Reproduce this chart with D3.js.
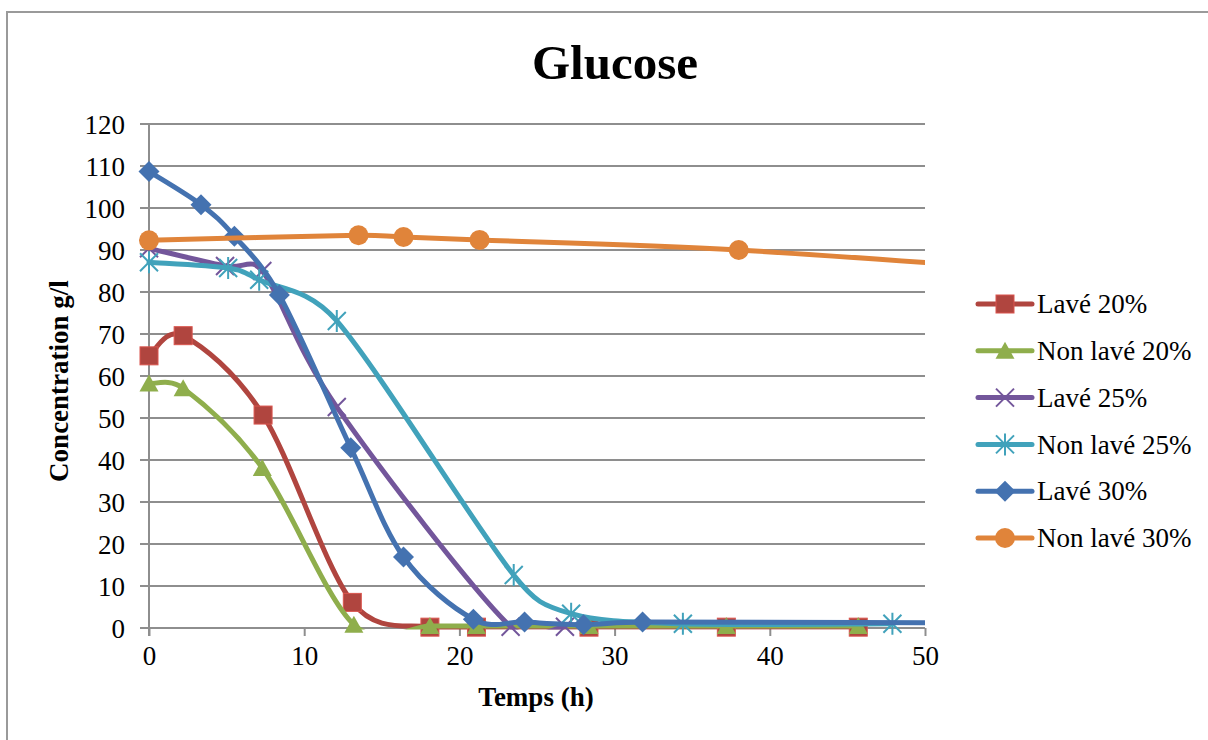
<!DOCTYPE html>
<html><head><meta charset="utf-8">
<script src="https://cdn.jsdelivr.net/npm/d3@7"></script>
<style>
html,body{margin:0;padding:0;background:#fff;}
svg{display:block;}
text{font-family:"Liberation Serif","Times New Roman",serif;fill:#000;}
</style></head>
<body><svg id="chart" width="1208" height="740"></svg>
<script>
// ---- data ----
const title = "Glucose";
const xTitle = "Temps (h)";
const yTitle = "Concentration g/l";
const xTicks = [0, 10, 20, 30, 40, 50];
const yTicks = [0, 10, 20, 30, 40, 50, 60, 70, 80, 90, 100, 110, 120];

const seriesNames = ["Lavé 20%", "Non lavé 20%", "Lavé 25%", "Non lavé 25%", "Lavé 30%", "Non lavé 30%"];
const seriesColors = ["#B0453F", "#8FAE4C", "#73569B", "#41A2BB", "#4472B0", "#E0843A"];
const seriesMarkers = ["square", "triangle", "x", "star", "diamond", "circle"];

const lave20_x = [0, 2.2, 7.35, 13.1, 18.1, 21.1, 28.35, 37.2, 45.7];
const lave20_y = [64.8, 69.6, 50.7, 6.1, 0.2, 0.2, 0.2, 0.2, 0.2];
const nonlave20_x = [0, 2.2, 7.3, 13.2, 18.1, 21.1, 28.35, 37.2, 45.7];
const nonlave20_y = [58.2, 57.1, 38.1, 0.8, 0.5, 0.5, 0.5, 0.5, 0.5];
const lave25_x = [0, 4.9, 7.3, 12.1, 23.3, 26.8];
const lave25_y = [90.4, 86.2, 85.0, 52.6, 0.3, 0.3];
const nonlave25_x = [0, 5.1, 7.1, 12.1, 23.5, 27.2, 34.4, 47.9];
const nonlave25_y = [87.1, 85.7, 82.9, 73.1, 12.6, 3.4, 1.0, 1.0];
const lave30_x = [0, 3.35, 5.5, 8.4, 13.0, 16.4, 20.9, 24.2, 28.0, 31.8, 60];
const lave30_y = [108.7, 100.8, 93.3, 79.3, 42.9, 16.9, 2.1, 1.4, 0.8, 1.4, 1.1];
const nonlave30_x = [0, 13.5, 16.4, 21.3, 38.0, 60];
const nonlave30_y = [92.3, 93.5, 93.1, 92.4, 90.0, 84.3];

const seriesX = [lave20_x, nonlave20_x, lave25_x, nonlave25_x, lave30_x, nonlave30_x];
const seriesY = [lave20_y, nonlave20_y, lave25_y, nonlave25_y, lave30_y, nonlave30_y];

// ---- layout ----
const svg = d3.select("#chart");
const x = d3.scaleLinear().domain([0, 50]).range([149, 925]);
const y = d3.scaleLinear().domain([0, 120]).range([628, 124]);
const gridColor = "#8E8E8E";

// frame
svg.append("rect").attr("x", 7).attr("y", 12).attr("width", 1400).attr("height", 900)
  .attr("fill", "none").attr("stroke", "#9a9a9a").attr("stroke-width", 2);

// title
svg.append("text").attr("x", 615).attr("y", 79).attr("text-anchor", "middle")
  .attr("font-size", 49).attr("font-weight", "bold").text(title);

// gridlines
svg.append("g").selectAll("line").data(yTicks).join("line")
  .attr("x1", x(0) - 9).attr("x2", x(50)).attr("y1", d => y(d)).attr("y2", d => y(d))
  .attr("stroke", gridColor).attr("stroke-width", 2);

// y axis
const yAxis = d3.axisLeft(y).tickValues(yTicks).tickSize(0).tickPadding(24);
const gy = svg.append("g").attr("transform", `translate(${x(0)},0)`).call(yAxis);
gy.select(".domain").remove();
gy.selectAll("text").attr("font-size", 27).attr("font-family", "Liberation Serif").attr("dy", "0.34em");
svg.append("line").attr("x1", x(0)).attr("x2", x(0)).attr("y1", y(120)).attr("y2", y(0) + 8)
  .attr("stroke", gridColor).attr("stroke-width", 2);

// x axis
const xAxis = d3.axisBottom(x).tickValues(xTicks).tickSize(8).tickPadding(12);
const gx = svg.append("g").attr("transform", `translate(0,${y(0)})`).call(xAxis);
gx.select(".domain").attr("stroke", gridColor).attr("stroke-width", 2).attr("d", `M${x(0)},0H${x(50)}`);
gx.selectAll(".tick line").attr("stroke", gridColor).attr("stroke-width", 2);
gx.selectAll("text").attr("font-size", 27).attr("font-family", "Liberation Serif").attr("dy", "0.62em");

// axis titles
svg.append("text").attr("x", 536).attr("y", 706).attr("text-anchor", "middle")
  .attr("font-size", 27).attr("font-weight", "bold").text(xTitle);
svg.append("text").attr("transform", "translate(68,381) rotate(-90)").attr("text-anchor", "middle")
  .attr("font-size", 27).attr("font-weight", "bold").text(yTitle);

// clip for lines (plot area)
svg.append("clipPath").attr("id", "plotclip").append("rect")
  .attr("x", x(0) - 20).attr("y", y(120) - 20).attr("width", x(50) - x(0) + 20).attr("height", y(0) - y(120) + 21.5);

// spreadsheet-style smoothed curve (Bezier with clamped control points)
function SmoothCurve(context) { this._context = context; }
SmoothCurve.prototype = {
  areaStart() {}, areaEnd() {},
  lineStart() { this._pts = []; },
  point(px, py) { this._pts.push([+px, +py]); },
  lineEnd() {
    const p = this._pts, c = this._context, n = p.length;
    if (!n) return;
    c.moveTo(p[0][0], p[0][1]);
    const dist = (a, b) => Math.hypot(a[0] - b[0], a[1] - b[1]);
    for (let i = 0; i < n - 1; i++) {
      const P0 = p[Math.max(0, i - 1)], P1 = p[i], P2 = p[i + 1], P3 = p[Math.min(n - 1, i + 2)];
      const d12 = dist(P1, P2), d02 = dist(P0, P2), d13 = dist(P1, P3);
      let f1 = 1 / 6, f2 = 1 / 6;
      if (d02 / 6 > d12 / 2 && d02 > 0) f1 = d12 / (2 * d02);
      if (d13 / 6 > d12 / 2 && d13 > 0) f2 = d12 / (2 * d13);
      c.bezierCurveTo(
        P1[0] + f1 * (P2[0] - P0[0]), P1[1] + f1 * (P2[1] - P0[1]),
        P2[0] - f2 * (P3[0] - P1[0]), P2[1] - f2 * (P3[1] - P1[1]),
        P2[0], P2[1]);
    }
  }
};
const curveSmooth = ctx => new SmoothCurve(ctx);

function drawMarker(g, type, color) {
  if (type === "square") {
    g.append("rect").attr("x", -9).attr("y", -9).attr("width", 18).attr("height", 18)
      .attr("fill", color).attr("stroke", d3.color(color).brighter(0.6)).attr("stroke-width", 1);
  } else if (type === "triangle") {
    g.append("path").attr("d", "M0,-9L9.5,8L-9.5,8Z").attr("fill", color);
  } else if (type === "diamond") {
    g.append("path").attr("d", "M0,-10.5L10.5,0L0,10.5L-10.5,0Z").attr("fill", color);
  } else if (type === "circle") {
    g.append("circle").attr("r", 10).attr("fill", color);
  } else if (type === "x") {
    g.append("path").attr("d", "M-9,-9L9,9M-9,9L9,-9").attr("stroke", color).attr("stroke-width", 2).attr("fill", "none");
  } else if (type === "star") {
    g.append("path").attr("d", "M-9,-9L9,9M-9,9L9,-9M0,-11L0,11").attr("stroke", color).attr("stroke-width", 2).attr("fill", "none");
  }
}

const line = d3.line().x(d => x(d[0])).y(d => y(d[1])).curve(curveSmooth);

seriesNames.forEach((name, i) => {
  const pts = seriesX[i].map((xv, j) => [xv, seriesY[i][j]]);
  const g = svg.append("g");
  g.append("path").datum(pts).attr("d", line).attr("fill", "none")
    .attr("stroke", seriesColors[i]).attr("stroke-width", 5).attr("stroke-linecap", "round")
    .attr("clip-path", "url(#plotclip)");
  pts.filter(p => p[0] <= 50).forEach(p => {
    const mg = g.append("g").attr("transform", `translate(${x(p[0])},${y(p[1])})`);
    drawMarker(mg, seriesMarkers[i], seriesColors[i]);
  });
});

// legend
const legY0 = 304, legStep = 46.8;
seriesNames.forEach((name, i) => {
  const gy0 = legY0 + i * legStep;
  const lg = svg.append("g").attr("transform", `translate(0,${gy0})`);
  lg.append("line").attr("x1", 978).attr("x2", 1032).attr("y1", 0).attr("y2", 0)
    .attr("stroke", seriesColors[i]).attr("stroke-width", 5).attr("stroke-linecap", "round");
  const mg = lg.append("g").attr("transform", "translate(1005,0)");
  drawMarker(mg, seriesMarkers[i], seriesColors[i]);
  lg.append("text").attr("x", 1037).attr("y", 0).attr("dy", "0.34em").attr("font-size", 27).text(name);
});
</script></body></html>
